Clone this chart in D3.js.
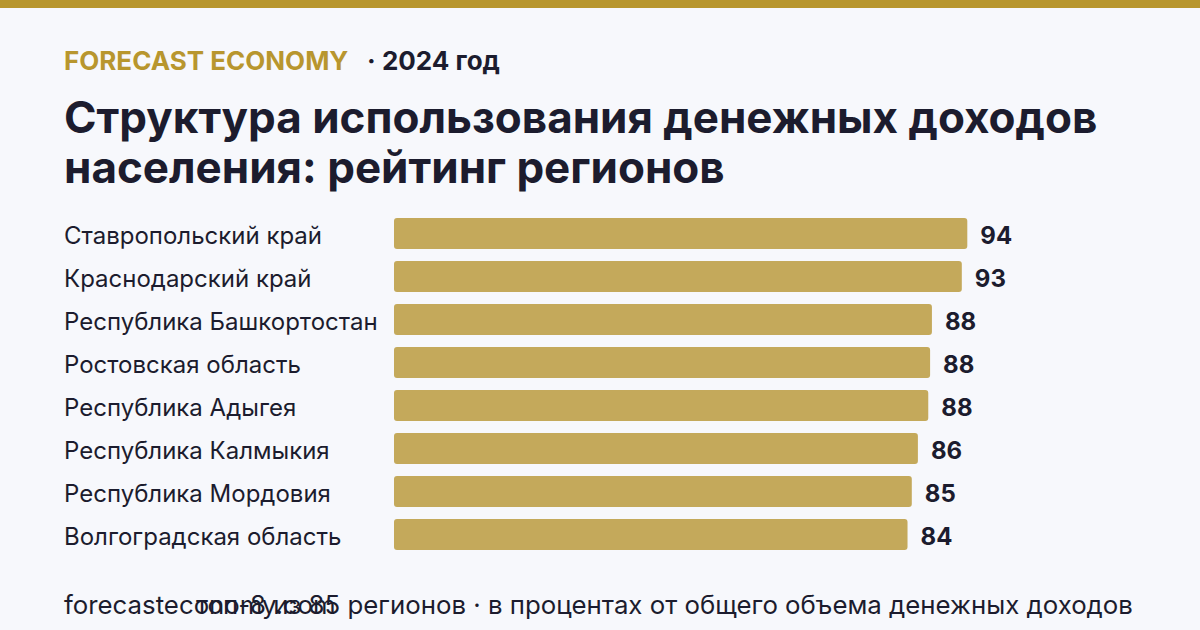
<!DOCTYPE html>
<html>
<head>
<meta charset="utf-8">
<script src="https://cdn.jsdelivr.net/npm/d3@7"></script>
<style>
  html, body { margin: 0; padding: 0; background: #f7f8fc; }
  svg { display: block; }
</style>
</head>
<body>
<svg id="chart" width="1200" height="630"></svg>
<script>
// regions, top-8 of 85
const regions = [
  'Ставропольский край',
  'Краснодарский край',
  'Республика Башкортостан',
  'Ростовская область',
  'Республика Адыгея',
  'Республика Калмыкия',
  'Республика Мордовия',
  'Волгоградская область'
]
// share of money income, %
const values = [94.0, 93.1, 88.2, 87.9, 87.6, 85.9, 84.9, 84.2]
const valueLabels = ['94', '93', '88', '88', '88', '86', '85', '84']

const brand = 'FORECAST ECONOMY'
const period = '· 2024 год'
const titleLines = ['Структура использования денежных доходов', 'населения: рейтинг регионов']
const site = 'forecasteconomy.com'
const note = 'топ-8 из 85 регионов · в процентах от общего объема денежных доходов'

const gold = '#b8962e'
const barColor = '#c4a95b'
const ink = '#1c1c2e'

const svg = d3.select('#chart')
svg.append('rect').attr('width', 1200).attr('height', 630).attr('fill', '#f7f8fc')
svg.append('rect').attr('width', 1200).attr('height', 8).attr('fill', gold)

// header
const head = svg.append('text')
  .attr('x', 64).attr('y', 70)
  .attr('font-family', 'Inter, sans-serif').attr('font-weight', 700).attr('font-size', 26)
head.append('tspan').attr('fill', gold).text(brand)
head.append('tspan').attr('fill', ink).attr('dx', 20).text(period)

svg.append('g').selectAll('text')
  .data(titleLines)
  .join('text')
  .attr('x', 64)
  .attr('y', (d, i) => 133 + i * 50)
  .attr('font-family', 'Inter, sans-serif').attr('font-weight', 700).attr('font-size', 44)
  .attr('fill', ink)
  .text(d => d)

// bars
const y = d3.scaleBand().domain(regions).range([218, 550]).paddingInner(12 / 43).paddingOuter(0)
const x = d3.scaleLinear().domain([0, 94]).range([394, 967.3])

const rows = svg.append('g').selectAll('g')
  .data(regions.map((r, i) => ({ r, v: values[i], l: valueLabels[i] })))
  .join('g')

rows.append('rect')
  .attr('x', x(0))
  .attr('y', d => y(d.r))
  .attr('width', d => x(d.v) - x(0))
  .attr('height', y.bandwidth())
  .attr('rx', 3)
  .attr('fill', barColor)

rows.append('text')
  .attr('x', 64)
  .attr('y', d => y(d.r) + y.bandwidth() / 2 + 10)
  .attr('font-family', 'Inter, sans-serif').attr('font-size', 24)
  .attr('fill', ink)
  .text(d => d.r)

rows.append('text')
  .attr('x', d => x(d.v) + 13)
  .attr('y', d => y(d.r) + y.bandwidth() / 2 + 10)
  .attr('font-family', 'Inter, sans-serif').attr('font-weight', 700).attr('font-size', 24)
  .attr('fill', ink)
  .text(d => d.l)

// footer (the two lines overlap in the source)
svg.append('text')
  .attr('x', 64).attr('y', 614)
  .attr('font-family', 'Inter, sans-serif').attr('font-size', 25.8)
  .attr('fill', ink)
  .text(site)
svg.append('text')
  .attr('x', 196).attr('y', 614)
  .attr('font-family', 'Inter, sans-serif').attr('font-size', 25.8)
  .attr('fill', ink)
  .text(note)
</script>
</body>
</html>
